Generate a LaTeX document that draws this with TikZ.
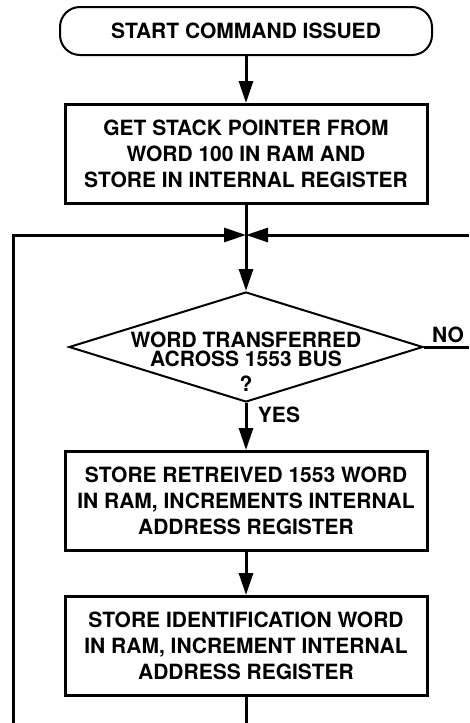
\documentclass[tikz,border=0pt]{standalone}
\usepackage{fontspec}
\setmainfont{TeX Gyre Heros}
\usetikzlibrary{shapes.geometric,arrows.meta}
\tikzset{every node/.style = {font=\fontsize{21}{26}\selectfont\bfseries},
  term/.style = {draw, line width=2pt, rounded corners=20pt, inner sep=0pt,
    minimum width=372pt, minimum height=48pt},
  box/.style = {draw, line width=3pt, inner sep=0pt, align=center,
    minimum width=362pt, minimum height=99pt},
  decision/.style = {draw, diamond, line width=2pt, inner sep=0pt,
    minimum width=354pt, minimum height=110pt},
  flow/.style = {line width=3pt, -{Triangle[length=22pt,width=14pt]}},
  wire/.style = {line width=3pt}}

\begin{document}
\begin{tikzpicture}[x=1pt, y=-1pt]
      \useasboundingbox (0,0) rectangle (469,723);
      \node[term] (start) at (246,31) {START COMMAND ISSUED};
      \node[box] (getsp) at (246,154) {GET STACK POINTER FROM\\WORD 100 IN RAM AND\\STORE IN INTERNAL REGISTER};
      \coordinate (jn) at (246,235);
      \node[decision, label={[align=center, yshift=-15pt,
          font=\fontsize{21}{19}\selectfont\bfseries]center:WORD TRANSFERRED\\ACROSS 1553 BUS\\[6pt]?}]
        (chk) at (246,347) {};
      \node[box] (storew) at (246,501) {STORE RETREIVED 1553 WORD\\IN RAM, INCREMENTS INTERNAL\\ADDRESS REGISTER};
      \node[box] (storeid) at (246,646) {STORE IDENTIFICATION WORD\\IN RAM, INCREMENT INTERNAL\\ADDRESS REGISTER};
      \node (no) at (448,335) {NO};
      \node (yes) at (279,415) {YES};
      \coordinate (lb) at (13,723);
      \coordinate (bot) at (246,723);
      \coordinate (rt) at (469,235);
      \coordinate (rn) at (469,347);
      \draw[flow] (start) -- (getsp);
      \draw[wire] (getsp) -- (jn);
      \draw[flow] (jn) -- (chk);
      \draw[flow] (lb) |- (jn);
      \draw[flow] (rt) -- (jn);
      \draw[wire] (chk.east) -- (rn);
      \draw[flow] (chk) -- (storew);
      \draw[flow] (storew) -- (storeid);
      \draw[wire] (storeid) -- (bot);
\end{tikzpicture}
\end{document}
